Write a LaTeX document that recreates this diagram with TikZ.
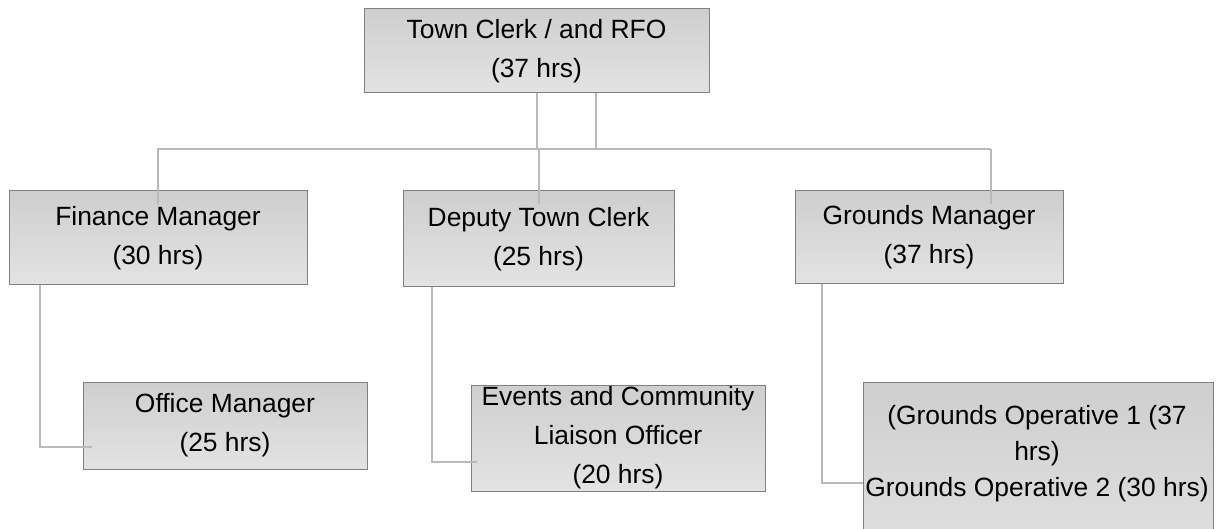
\documentclass[tikz,border=0pt]{standalone}
\usepackage{fontspec}
\setmainfont{Liberation Sans}
\usetikzlibrary{calc}
\begin{document}
\begin{tikzpicture}[x=1pt,y=-1pt,
  box/.style={draw=black!50, line width=1pt, top color=black!19, bottom color=black!11,
    inner sep=0pt, align=center, font=\fontsize{26.4}{39}\selectfont},
  conn/.style={draw=black!27, line width=2pt}]
\useasboundingbox (0,0) rectangle (1221,529);
\clip (0,0) rectangle (1221,529);
\node[box, minimum width=345, minimum height=84] (tc) at (536.5,51) {Town Clerk / and RFO\\(37 hrs)};
\node[box, minimum width=298, minimum height=94] (fm) at (158,238) {Finance Manager\\(30 hrs)};
\node[box, minimum width=271, minimum height=96] (dtc) at (538.5,239) {Deputy Town Clerk\\(25 hrs)};
\node[box, minimum width=268, minimum height=93] (gm) at (929,237.5) {Grounds Manager\\(37 hrs)};
\node[box, minimum width=284, minimum height=87] (om) at (225,425.5) {Office Manager\\(25 hrs)};
\node[box, minimum width=294, minimum height=106] (ev) at (618,438) {Events and Community\\Liaison Officer\\(20 hrs)};
\node[box, minimum width=350, minimum height=200] (gop) at (1038,482) {};
\node[align=center, inner sep=0pt, font=\fontsize{26.4}{36}\selectfont] (goptext) at (1037,454) {(Grounds Operative 1 (37\\hrs)\\Grounds Operative 2 (30 hrs)};
\coordinate (busL) at (157,149);
\coordinate (busR) at (991,149);
\draw[conn] ($(tc.south)+(0.5,0)$) -- ++(0,56);
\draw[conn] ($(tc.south)+(59.5,0)$) -- ++(0,56);
\draw[conn] (busL) -- (busR);
\draw[conn] (fm.north |- busL) -- ($(fm.north)+(0,14)$);
\draw[conn] (dtc.north |- busL) -- ($(dtc.north)+(0,14)$);
\draw[conn] (busR) -- ($(busR |- gm.north)+(0,14)$);
\draw[conn] ($(fm.south west)+(31,0)$) |- ($(om.west)+(9,21.5)$);
\draw[conn] ($(dtc.south west)+(29,0)$) |- ($(ev.west)+(6,24)$);
\draw[conn] ($(gm.south west)+(27,0)$) |- ($(gop.north west)+(0,101)$);
\end{tikzpicture}
\end{document}
